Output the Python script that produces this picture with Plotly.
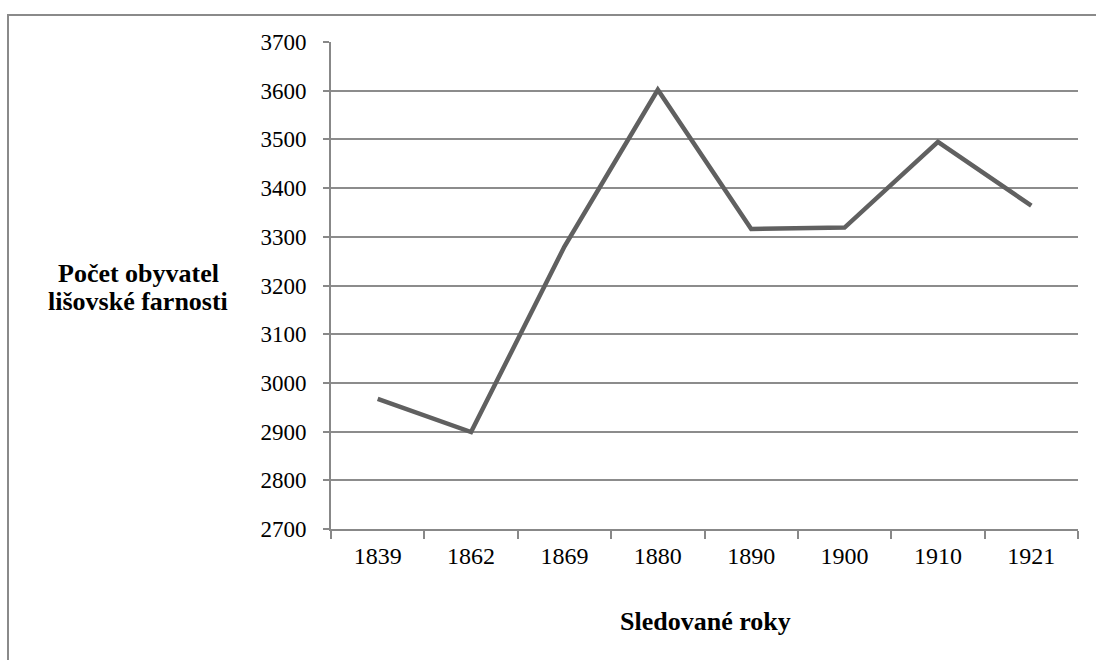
import plotly.graph_objects as go

years = ["1839", "1862", "1869", "1880", "1890", "1900", "1910", "1921"]
population = [2967, 2899, 3280, 3602, 3316, 3319, 3495, 3364]
y_ticks = [2700, 2800, 2900, 3000, 3100, 3200, 3300, 3400, 3500, 3600, 3700]

W, H = 1096, 660
L, R, T, B = 331, 18, 42, 131
pw, ph = W - L - R, H - T - B

def px(x):
    return (x - L) / pw

def py(y):
    return (H - B - y) / ph

fig = go.Figure(go.Scatter(
    x=years, y=population, mode="lines",
    line=dict(color="#606060", width=4.5), hoverinfo="skip"))

font = "Liberation Serif"
title_font = dict(family=font, size=26, color="black")
fig.update_layout(
    width=W, height=H, margin=dict(l=L, r=R, t=T, b=B),
    paper_bgcolor="white", plot_bgcolor="white", showlegend=False,
    font=dict(family=font, size=24, color="black"),
    xaxis=dict(type="category", tickson="boundaries", ticks="outside", ticklen=8,
               tickcolor="#888", tickwidth=2, showgrid=False, showline=True,
               linecolor="#888", linewidth=2, ticklabelstandoff=4,
               tickfont=dict(family=font, size=24, color="black"), range=[-0.5, 7.5]),
    yaxis=dict(range=[2700, 3700], tickvals=y_ticks, ticks="outside", ticklen=6,
               tickcolor="#888", tickwidth=2, showgrid=True, gridcolor="#8c8c8c",
               gridwidth=1.5, showline=True, linecolor="#888", linewidth=2,
               zeroline=False, ticklabelstandoff=12,
               tickfont=dict(family=font, size=23, color="black")),
    shapes=[dict(type="path", xref="paper", yref="paper",
                 path=f"M {px(8)} {py(662)} L {px(8)} {py(15)} L {px(1098)} {py(15)}",
                 line=dict(color="#8a8a8a", width=2))],
    annotations=[
        dict(text="<b>Počet obyvatel</b>", xref="paper", yref="paper",
             x=px(138), y=py(273), showarrow=False, xanchor="center", yanchor="middle",
             font=title_font),
        dict(text="<b>lišovské farnosti</b>", xref="paper", yref="paper",
             x=px(138), y=py(302), showarrow=False, xanchor="center", yanchor="middle",
             font=title_font),
        dict(text="<b>Sledované roky</b>", xref="paper", yref="paper",
             x=px(705), y=py(621), showarrow=False, xanchor="center", yanchor="middle",
             font=title_font),
    ],
)
fig.write_html("out.html", config={"displayModeBar": False},
               post_script="document.body.style.margin='0';document.body.style.overflow='hidden';")
